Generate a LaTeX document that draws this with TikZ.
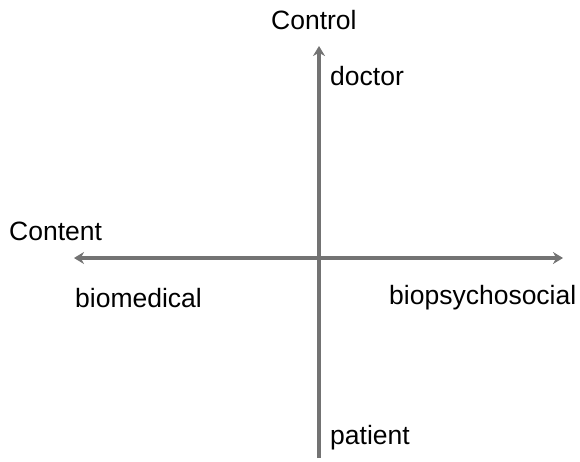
\documentclass[tikz,border=0pt]{standalone}
\usepackage{fontspec}
\setmainfont{Liberation Sans}
\usetikzlibrary{arrows.meta}
\begin{document}
\begin{tikzpicture}[x=1pt,y=-1pt,
  axis/.style={draw=black!55,line width=3.5pt,-{Stealth[length=10pt,width=12pt]}},
  lab/.style={font=\fontsize{26.5}{30}\selectfont,inner sep=0pt,anchor=west}]
\useasboundingbox (0,0) rectangle (580,462);
\coordinate (top) at (319,46);
\coordinate (bot) at (319,458);
\coordinate (left) at (74,258);
\coordinate (right) at (563,258);
\coordinate (c) at (319,258);
\draw[axis] (c) -- (right);
\draw[axis] (c) -- (left);
\draw[axis] (bot) -- (top);
\node[lab] (control) at (271,20) {Control};
\node[lab] (doctor) at (330,76) {doctor};
\node[lab] (content) at (9,231) {Content};
\node[lab] (biomed) at (75,298) {biomedical};
\node[lab] (biopsy) at (389,298) {biopsychosocial};
\node[lab] (patient) at (330,438) {patient};
\end{tikzpicture}
\end{document}
